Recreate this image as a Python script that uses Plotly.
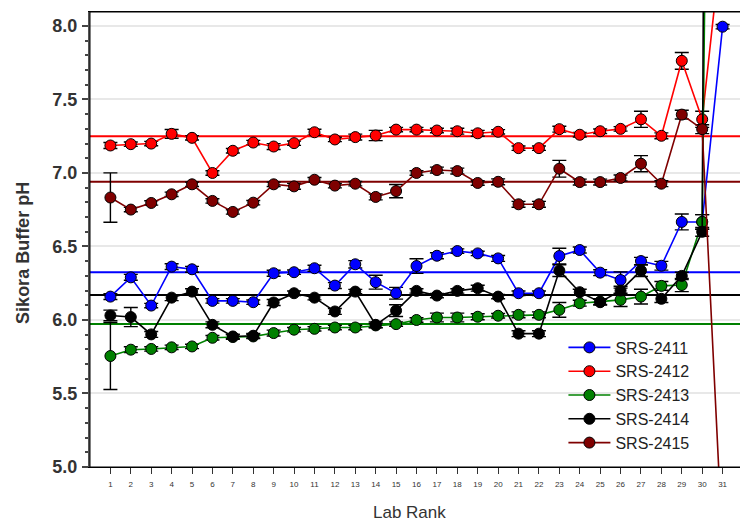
import plotly.graph_objects as go

ranks = list(range(1, 32))

series_names = ["SRS-2411", "SRS-2412", "SRS-2413", "SRS-2414", "SRS-2415"]
series_colors = ["#0000ff", "#ff0000", "#008000", "#000000", "#7f0000"]

srs_2411 = [6.159, 6.29, 6.098, 6.363, 6.345, 6.13, 6.13, 6.121, 6.318, 6.325,
            6.352, 6.234, 6.379, 6.257, 6.182, 6.367, 6.437, 6.469, 6.453, 6.419,
            6.182, 6.182, 6.435, 6.476, 6.322, 6.272, 6.401, 6.369, 6.667, 6.667, 7.995]
srs_2412 = [7.187, 7.196, 7.20, 7.266, 7.239, 7.0, 7.151, 7.207, 7.18, 7.203,
            7.277, 7.228, 7.244, 7.255, 7.295, 7.295, 7.289, 7.284, 7.27, 7.28,
            7.169, 7.169, 7.298, 7.26, 7.284, 7.30, 7.365, 7.253, 7.763, 7.365, 8.64]
srs_2413 = [5.755, 5.798, 5.803, 5.814, 5.82, 5.879, 5.884, 5.888, 5.911, 5.934,
            5.94, 5.949, 5.949, 5.963, 5.972, 6.0, 6.017, 6.017, 6.022, 6.029,
            6.035, 6.035, 6.069, 6.114, 6.125, 6.137, 6.159, 6.232, 6.238, 6.667, 19.0]
srs_2414 = [6.031, 6.02, 5.902, 6.152, 6.193, 5.967, 5.888, 5.893, 6.119, 6.182,
            6.152, 6.058, 6.193, 5.967, 6.064, 6.198, 6.166, 6.198, 6.216, 6.159,
            5.907, 5.907, 6.336, 6.189, 6.121, 6.2, 6.336, 6.144, 6.30, 6.60, 35.0]
srs_2415 = [6.833, 6.751, 6.796, 6.855, 6.923, 6.81, 6.735, 6.798, 6.923, 6.909,
            6.954, 6.914, 6.927, 6.837, 6.877, 7.0, 7.02, 7.013, 6.932, 6.94,
            6.787, 6.787, 7.029, 6.938, 6.938, 6.966, 7.063, 6.927, 7.397, 7.298, 4.45]

err_2411 = [0.02, 0.02, 0.015, 0.02, 0.02, 0.015, 0.015, 0.015, 0.02, 0.015,
            0.02, 0.02, 0.025, 0.047, 0.04, 0.05, 0.02, 0.015, 0.015, 0.02,
            0.015, 0.015, 0.053, 0.02, 0.02, 0.055, 0.025, 0.03, 0.054, 0.05, 0.015]
err_2412 = [0.02, 0.015, 0.015, 0.03, 0.015, 0.015, 0.015, 0.015, 0.02, 0.015,
            0.02, 0.015, 0.02, 0.035, 0.015, 0.015, 0.015, 0.02, 0.02, 0.015,
            0.015, 0.015, 0.02, 0.015, 0.015, 0.015, 0.055, 0.02, 0.057, 0.055, 0.02]
err_2413 = [0.228, 0.02, 0.015, 0.015, 0.015, 0.015, 0.015, 0.015, 0.02, 0.015,
            0.015, 0.015, 0.015, 0.015, 0.015, 0.015, 0.03, 0.03, 0.02, 0.015,
            0.02, 0.02, 0.05, 0.02, 0.02, 0.045, 0.05, 0.03, 0.045, 0.05, 0.02]
err_2414 = [0.036, 0.065, 0.02, 0.02, 0.02, 0.02, 0.015, 0.015, 0.02, 0.015,
            0.015, 0.02, 0.015, 0.02, 0.04, 0.015, 0.015, 0.015, 0.02, 0.015,
            0.02, 0.02, 0.04, 0.02, 0.02, 0.03, 0.04, 0.025, 0.025, 0.03, 0.02]
err_2415 = [0.168, 0.015, 0.015, 0.015, 0.015, 0.015, 0.015, 0.015, 0.015, 0.02,
            0.015, 0.015, 0.015, 0.02, 0.045, 0.015, 0.02, 0.02, 0.015, 0.02,
            0.02, 0.02, 0.057, 0.02, 0.02, 0.02, 0.055, 0.02, 0.03, 0.03, 0.02]

consensus = [6.325, 7.25, 5.972, 6.17, 6.94]

y_ticks = [5.0, 5.5, 6.0, 6.5, 7.0, 7.5, 8.0]

values = [srs_2411, srs_2412, srs_2413, srs_2414, srs_2415]
errors = [err_2411, err_2412, err_2413, err_2414, err_2415]

fig = go.Figure()

# consensus lines (behind)
for name, col, c in zip(series_names, series_colors, consensus):
    fig.add_trace(go.Scatter(
        x=[0, 32], y=[c, c], mode="lines",
        line=dict(color=col, width=2), showlegend=False, hoverinfo="skip"))

for name, col, vals, errs in zip(series_names, series_colors, values, errors):
    fig.add_trace(go.Scatter(
        x=ranks, y=vals, name=name, mode="lines+markers",
        line=dict(color=col, width=1.6),
        marker=dict(color=col, size=11, line=dict(color="#000000", width=1)),
        error_y=dict(type="data", array=errs, visible=True,
                     color="#000000", thickness=1.4, width=7),
    ))

# page body has an 8px margin, so figure is 8px smaller and margins shifted
fig.update_layout(
    width=740, height=515,
    margin=dict(l=82, r=5, t=4, b=56),
    plot_bgcolor="white", paper_bgcolor="white",
    font=dict(family="Liberation Sans, Arial, sans-serif", color="#222"),
    showlegend=True,
    legend=dict(x=0.725, y=0.300, xanchor="left", yanchor="top",
                bgcolor="rgba(255,255,255,0)", borderwidth=0,
                font=dict(size=16, color="#222"), itemwidth=42,
                tracegroupgap=0),
    xaxis=dict(range=[0, 32], tickvals=ranks, ticktext=[str(r) for r in ranks],
               ticks="outside", ticklen=6, tickcolor="#333", tickwidth=1,
               tickfont=dict(size=8, color="#333"), showgrid=False, zeroline=False,
               showline=True, linecolor="#000", linewidth=1, mirror=True,
               ticklabelstandoff=3),
    yaxis=dict(range=[5.0, 8.095], tickvals=y_ticks,
               ticktext=[f"{v:.1f}" for v in y_ticks],
               ticks="outside", ticklen=6, tickcolor="#444", tickwidth=1.5,
               tickfont=dict(size=18, color="#333", weight="bold"),
               showgrid=True, gridcolor="#e8e8e8", gridwidth=1.5, zeroline=False,
               showline=True, linecolor="#555", linewidth=2,
               minor=dict(dtick=0.1, tick0=5.0, ticks="outside", ticklen=3.5,
                          tickcolor="#444", showgrid=False),
               ticklabelstandoff=1),
)

# box border (top/right)
fig.add_shape(type="rect", xref="paper", yref="paper", x0=0, y0=0, x1=1, y1=1,
              line=dict(color="#000", width=1), fillcolor="rgba(0,0,0,0)")

fig.add_annotation(text="<b>Sikora Buffer pH</b>", xref="paper", yref="paper",
                   x=-0.103, y=0.47, textangle=-90, showarrow=False,
                   font=dict(size=18, color="#333"), xanchor="center", yanchor="middle")
fig.add_annotation(text="Lab Rank", xref="paper", yref="paper",
                   x=0.49, y=-0.099, showarrow=False,
                   font=dict(size=17, color="#333"), xanchor="center", yanchor="middle")

fig.write_html("out.html")
